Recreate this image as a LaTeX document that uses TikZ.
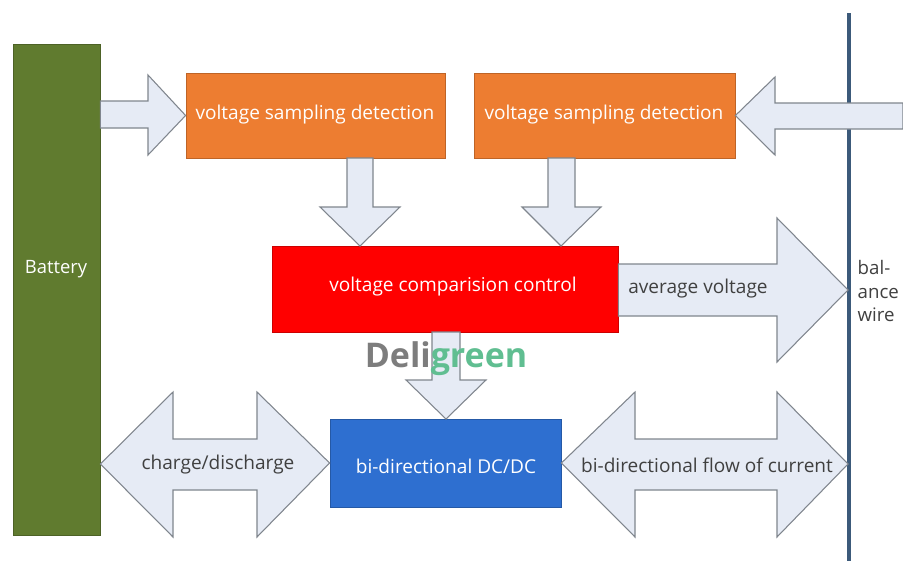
\documentclass[tikz,border=0pt]{standalone}
\usepackage{fontspec}
\setmainfont{Open Sans}
\usetikzlibrary{fit}

\definecolor{battgreen}{RGB}{96,123,47}
\definecolor{vsorange}{RGB}{237,125,49}
\definecolor{cmpred}{RGB}{255,0,0}
\definecolor{dcblue}{RGB}{46,111,208}
\definecolor{arrowfill}{RGB}{230,235,245}
\definecolor{arrowedge}{RGB}{128,134,142}
\definecolor{wireblue}{RGB}{60,90,122}
\definecolor{labelgray}{RGB}{64,64,64}
\definecolor{markgray}{RGB}{125,125,125}
\definecolor{markgreen}{RGB}{96,190,145}

\tikzset{
  block/.style={draw=#1!80!black, fill=#1, line width=0.6pt, inner sep=0pt},
  blocktext/.style={text=white, font=\fontsize{14.3}{17}\selectfont},
  fatarrow/.style={fill=arrowfill, draw=arrowedge, line width=0.8pt, line join=miter},
  arrowtext/.style={text=labelgray, font=\fontsize{14.3}{17}\selectfont},
}

\begin{document}
\begin{tikzpicture}[x=0.75pt,y=-0.75pt]
\useasboundingbox[fill=white] (0,0) rectangle (903,561);

% balance wire
\coordinate (wiretop) at (849,13);
\coordinate (wirebot) at (849,561);
\draw[wireblue, line width=2.4pt] (wiretop) -- (wirebot);

% blocks
\node[block=battgreen, fit={(13,44)(100,535)}] (bat) {};
\node[block=vsorange, fit={(186,73)(445,158)}] (vsd1) {};
\node[block=vsorange, fit={(474,73)(735,158)}] (vsd2) {};
\node[block=cmpred, fit={(272,246)(618,332)}] (vcc) {};
\node[block=dcblue, fit={(330,419)(561,507)}] (dcdc) {};

% battery -> left sampling block
\draw[fatarrow] (bat.east |- 0,101) -- (148,101) -- (148,75) -- (vsd1.west) -- (148,155) -- (148,128) -- (bat.east |- 0,128) -- cycle;
% wire -> right sampling block
\draw[fatarrow] (903,103) -- (775,103) -- (775,77) -- (vsd2.east) -- (775,155) -- (775,129) -- (903,129) -- cycle;
% sampling blocks -> comparison control
\draw[fatarrow] (347,158) -- (373,158) -- (373,207) -- (400,207) -- (360,246) -- (320,207) -- (347,207) -- cycle;
\draw[fatarrow] (548,158) -- (575,158) -- (575,207) -- (601,207) -- (561,246) -- (522,207) -- (548,207) -- cycle;
% comparison control -> wire
\draw[fatarrow] (vcc.east |- 0,264) -- (777,264) -- (777,218) -- (848,290) -- (777,362) -- (777,316) -- (vcc.east |- 0,316) -- cycle;
% comparison control -> DC/DC
\draw[fatarrow] (432,332) -- (460,332) -- (460,380) -- (486,380) -- (446,419) -- (406,380) -- (432,380) -- cycle;
% battery <-> DC/DC
\draw[fatarrow] (bat.east |- 0,464) -- (173,392) -- (173,439) -- (257,439) -- (257,392) -- (dcdc.west) -- (257,537) -- (257,490) -- (173,490) -- (173,537) -- cycle;
% DC/DC <-> wire
\draw[fatarrow] (dcdc.east) -- (635,392) -- (635,439) -- (777,439) -- (777,392) -- (848,464) -- (777,537) -- (777,490) -- (635,490) -- (635,537) -- cycle;

% block texts
\node[blocktext, font=\fontsize{13.8}{17}\selectfont] at (56,269) {Battery};
\node[blocktext] at (315,115) {voltage sampling detection};
\node[blocktext] at (604,115) {voltage sampling detection};
\node[blocktext] at (453,287) {voltage comparision control};
\node[blocktext] at (446,466) {bi-directional DC/DC};

% arrow texts
\node[arrowtext] (avg) at (698,289) {average voltage};
\node[arrowtext] (chg) at (218,465) {charge/discharge};
\node[arrowtext] (flow) at (707,465) {bi-directional flow of current};
\node[arrowtext, anchor=north west, align=left, font=\fontsize{14}{17.6}\selectfont] (wirelbl) at (853,256) {bal-\\ance\\wire};

% mark
\node[anchor=base, font=\bfseries\fontsize{25.5}{25.5}\selectfont, inner sep=0pt] (mark) at (446,367) {\textcolor{markgray}{Deli}\textcolor{markgreen}{green}};
\end{tikzpicture}
\end{document}
